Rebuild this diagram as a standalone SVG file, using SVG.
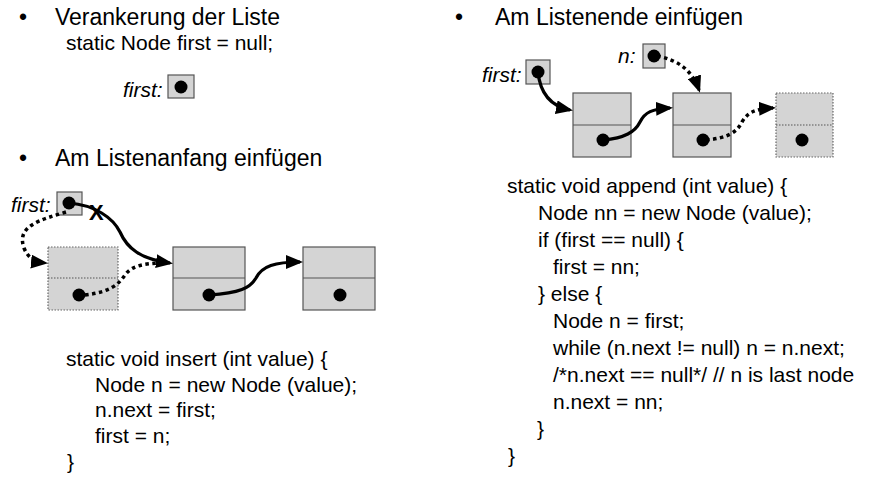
<svg xmlns="http://www.w3.org/2000/svg" width="879" height="477" viewBox="0 0 879 477">
<style>
text{font-family:"Liberation Sans",Arial,sans-serif;fill:#000}
.h{font-size:23px}
.c{font-size:21px}
.lbl{font-size:21px;font-style:italic}
.x{font-size:22px;font-weight:bold}
.box{fill:#d4d4d4;stroke:#555;stroke-width:1.2}
.dbox{fill:#d4d4d4;stroke:#666;stroke-width:1.2;stroke-dasharray:1.5 1.5}
.div{stroke:#555;stroke-width:1.2}
.dot{fill:#000}
.sl{fill:none;stroke:#000;stroke-width:3.2}
.dl{fill:none;stroke:#000;stroke-width:3.5;stroke-dasharray:3.5 3.5}
</style>
<defs>
<marker id="ah" markerUnits="userSpaceOnUse" markerWidth="18" markerHeight="14" refX="14" refY="7" orient="auto">
<path d="M0,0 L17,7 L0,14 z" fill="#000"/>
</marker>
</defs>

<g id="texts">
<text class="h" x="19" y="25">•</text>
<text class="h" x="55" y="25">Verankerung der Liste</text>
<text class="c" x="66" y="50">static Node first = null;</text>
<text class="h" x="19" y="166">•</text>
<text class="h" x="55" y="166">Am Listenanfang einfügen</text>
<text class="h" x="455" y="25">•</text>
<text class="h" x="495" y="25">Am Listenende einfügen</text>
<text class="c" x="66" y="366">static void insert (int value) {</text>
<text class="c" x="95" y="392">Node n = new Node (value);</text>
<text class="c" x="95" y="417">n.next = first;</text>
<text class="c" x="95" y="443">first = n;</text>
<text class="c" x="67" y="469">}</text>
<text class="c" x="507" y="193">static void append (int value) {</text>
<text class="c" x="538" y="220">Node nn = new Node (value);</text>
<text class="c" x="538" y="247">if (first == null) {</text>
<text class="c" x="553" y="274">first = nn;</text>
<text class="c" x="538" y="301">} else {</text>
<text class="c" x="553" y="328">Node n = first;</text>
<text class="c" x="553" y="355">while (n.next != null) n = n.next;</text>
<text class="c" x="553" y="382">/*n.next == null*/ // n is last node</text>
<text class="c" x="553" y="409">n.next = nn;</text>
<text class="c" x="537" y="436">}</text>
<text class="c" x="508" y="463">}</text>
</g>

<g id="ptr-first-top">
<text class="lbl" x="123" y="97">first:</text>
<rect class="box" x="168" y="75" width="26" height="23"/>
<circle class="dot" cx="181" cy="87" r="6.5"/>
</g>

<g id="ptr-first-left">
<text class="lbl" x="11" y="212">first:</text>
<rect class="box" x="57" y="192" width="25" height="23"/>
<circle class="dot" cx="69" cy="203" r="6.5"/>
</g>
<text class="x" x="89" y="220">X</text>

<g id="node-new-left">
<rect class="dbox" x="48" y="247" width="70" height="63"/>
<line class="div" x1="48" y1="278" x2="118" y2="278" stroke-dasharray="1.5 1.5"/>
<circle class="dot" cx="79" cy="295" r="6.5"/>
</g>
<g id="node-left-1">
<rect class="box" x="173" y="247" width="72" height="63"/>
<line class="div" x1="173" y1="278" x2="245" y2="278"/>
<circle class="dot" cx="209" cy="295" r="6.5"/>
</g>
<g id="node-left-2">
<rect class="box" x="303" y="247" width="72" height="63"/>
<line class="div" x1="303" y1="278" x2="375" y2="278"/>
<circle class="dot" cx="340" cy="295" r="6.5"/>
</g>

<g id="ptr-first-right">
<text class="lbl" x="482" y="82">first:</text>
<rect class="box" x="526" y="60" width="24" height="24"/>
<circle class="dot" cx="538" cy="72" r="6.5"/>
</g>
<g id="ptr-n">
<text class="lbl" x="618" y="63">n:</text>
<rect class="box" x="643" y="44" width="22" height="24"/>
<circle class="dot" cx="654" cy="56" r="6.5"/>
</g>

<g id="node-right-1">
<rect class="box" x="573" y="93" width="58" height="64"/>
<line class="div" x1="573" y1="125" x2="631" y2="125"/>
<circle class="dot" cx="603" cy="140" r="6.5"/>
</g>
<g id="node-right-2">
<rect class="box" x="673" y="93" width="58" height="64"/>
<line class="div" x1="673" y1="125" x2="731" y2="125"/>
<circle class="dot" cx="703" cy="140" r="6.5"/>
</g>
<g id="node-right-new">
<rect class="dbox" x="776" y="93" width="57" height="64"/>
<line class="div" x1="776" y1="125" x2="833" y2="125" stroke-dasharray="1.5 1.5"/>
<circle class="dot" cx="802" cy="140" r="6.5"/>
</g>

<g id="connectors">
<path class="sl" marker-end="url(#ah)" d="M69,203 C95,205 113,218 120,232 C127,248 140,259 170,263"/>
<path class="dl" marker-end="url(#ah)" d="M66,212 C40,220 16,226 24,248 C28,258 35,262 45,263"/>
<path class="dl" d="M85,295 C110,292 118,285 125,275 C132,265 145,264 158,263"/>
<path class="sl" marker-end="url(#ah)" d="M209,295 C240,293 250,288 256,278 C262,266 275,262 300,262"/>
<path class="sl" marker-end="url(#ah)" d="M538,72 C540,92 550,106 570,110"/>
<path class="sl" marker-end="url(#ah)" d="M603,140 C625,138 635,132 640,122 C645,112 652,109 670,108"/>
<path class="dl" marker-end="url(#ah)" d="M657,56 C678,60 692,70 699,90"/>
<path class="dl" marker-end="url(#ah)" d="M706,140 C728,138 737,132 742,122 C748,112 755,109 773,108"/>
</g>
</svg>
